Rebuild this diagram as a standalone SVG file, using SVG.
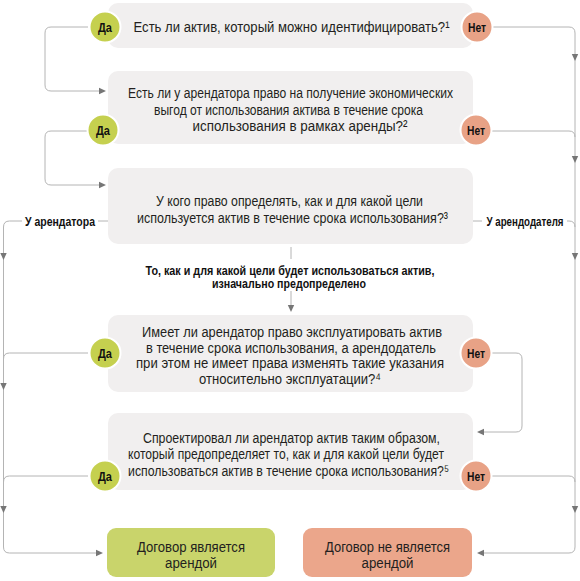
<svg xmlns="http://www.w3.org/2000/svg" xmlns:xlink="http://www.w3.org/1999/xlink" width="580" height="581" viewBox="0 0 580 581">
<style>
.box{fill:#f1efef}
.q{font-family:"Liberation Sans Narrow","Liberation Sans",Arial,sans-serif;font-size:15.5px;fill:#231f20;text-anchor:middle}
.lbl{font-family:"Liberation Sans Narrow","Liberation Sans",Arial,sans-serif;font-size:12.5px;font-weight:bold;fill:#111;text-anchor:middle}
.yes{fill:#c5d04f;stroke:#fff;stroke-width:2}
.no{fill:#e8a286;stroke:#fff;stroke-width:2}
.ln{fill:none;stroke:#b4b4b4;stroke-width:1}
.ah{fill:#767676}
</style>
<defs>
<path id="ad" d="M-3.2,-7 L3.2,-7 L0,0 Z"/>
<path id="ar" d="M-7,-3.2 L-7,3.2 L0,0 Z"/>
<path id="al" d="M7,-3.2 L7,3.2 L0,0 Z"/>
</defs>
<rect width="580" height="581" fill="#fff"/>

<g id="connectors">
<path class="ln" d="M88,27 H51 Q45,27 45,33 V85 Q45,91 51,91 H100"/>
<path class="ln" d="M88,131 H51 Q45,131 45,137 V179 Q45,185 51,185 H100"/>
<path class="ln" d="M491,27 H569 Q575,27 575,33 V547 Q575,553 569,553 H483"/>
<path class="ln" d="M491,131 H569 Q575,131 575,137"/>
<path class="ln" d="M473,221 H482"/>
<path class="ln" d="M567,221 H569 Q575,221 575,227"/>
<path class="ln" d="M108,221 H98"/>
<path class="ln" d="M22,221 H9.5 Q3.5,221 3.5,227 V547 Q3.5,553 9.5,553 H97"/>
<path class="ln" d="M88,353 H9.5 Q3.5,353 3.5,359"/>
<path class="ln" d="M88,476 H9.5 Q3.5,476 3.5,482"/>
<path class="ln" d="M491,353 H516 Q522,353 522,359 V426 Q522,432 516,432 H483"/>
<path class="ln" d="M491,476 H569 Q575,476 575,482"/>
<path class="ln" d="M291,247 V259"/>
<path class="ln" d="M291,291 V306"/>
<g class="ah">
<use xlink:href="#ar" x="106" y="91"/>
<use xlink:href="#ar" x="106" y="185"/>
<use xlink:href="#ad" x="575" y="61"/>
<use xlink:href="#ad" x="575" y="163"/>
<use xlink:href="#ad" x="575" y="260"/>
<use xlink:href="#ad" x="575" y="513"/>
<use xlink:href="#al" x="477" y="553"/>
<use xlink:href="#ad" x="3.5" y="260"/>
<use xlink:href="#ad" x="3.5" y="390"/>
<use xlink:href="#ad" x="3.5" y="513"/>
<use xlink:href="#ar" x="103" y="553"/>
<use xlink:href="#al" x="477" y="432"/>
<use xlink:href="#ad" x="291" y="312"/>
</g>
<text class="lbl" x="60" y="225.5" textLength="70" lengthAdjust="spacingAndGlyphs">У арендатора</text>
<text class="lbl" x="525" y="225.5" textLength="77" lengthAdjust="spacingAndGlyphs">У арендодателя</text>
<text class="lbl" x="290" y="275" textLength="289" lengthAdjust="spacingAndGlyphs">То, как и для какой цели будет использоваться актив,</text>
<text class="lbl" x="289" y="288" textLength="154" lengthAdjust="spacingAndGlyphs">изначально предопределено</text>
</g>

<g id="q1">
<rect class="box" x="108" y="3" width="365" height="45" rx="10"/>
<text class="q" x="291.5" y="31.5" textLength="316" lengthAdjust="spacingAndGlyphs">Есть ли актив, который можно идентифицировать?¹</text>
</g>
<g id="q2">
<rect class="box" x="108" y="71" width="365" height="73" rx="10"/>
<text class="q" x="290.5" y="98" textLength="325" lengthAdjust="spacingAndGlyphs">Есть ли у арендатора право на получение экономических</text>
<text class="q" x="288.5" y="114.5" textLength="269" lengthAdjust="spacingAndGlyphs">выгод от использования актива в течение срока</text>
<text class="q" x="300" y="131" textLength="215" lengthAdjust="spacingAndGlyphs">использования в рамках аренды?²</text>
</g>
<g id="q3">
<rect class="box" x="108" y="168" width="365" height="76" rx="10"/>
<text class="q" x="289.5" y="206" textLength="267" lengthAdjust="spacingAndGlyphs">У кого право определять, как и для какой цели</text>
<text class="q" x="292.5" y="222.5" textLength="311" lengthAdjust="spacingAndGlyphs">используется актив в течение срока использования?³</text>
</g>
<g id="q4">
<rect class="box" x="108" y="315" width="365" height="77" rx="10"/>
<text class="q" x="292" y="337" textLength="300" lengthAdjust="spacingAndGlyphs">Имеет ли арендатор право эксплуатировать актив</text>
<text class="q" x="291" y="352.5" textLength="290" lengthAdjust="spacingAndGlyphs">в течение срока использования, а арендодатель</text>
<text class="q" x="290" y="368" textLength="308" lengthAdjust="spacingAndGlyphs">при этом не имеет права изменять такие указания</text>
<text class="q" x="290" y="383.5" textLength="182" lengthAdjust="spacingAndGlyphs">относительно эксплуатации?⁴</text>
</g>
<g id="q5">
<rect class="box" x="108" y="413" width="365" height="77" rx="10"/>
<text class="q" x="291.5" y="442.5" textLength="297" lengthAdjust="spacingAndGlyphs">Спроектировал ли арендатор актив таким образом,</text>
<text class="q" x="286" y="459" textLength="316" lengthAdjust="spacingAndGlyphs">который предопределяет то, как и для какой цели будет</text>
<text class="q" x="288.5" y="475.5" textLength="321" lengthAdjust="spacingAndGlyphs">использоваться актив в течение срока использования?⁵</text>
</g>

<g id="yes1"><circle class="yes" cx="105" cy="27" r="15.5"/><text class="lbl" x="105" y="31.5" textLength="14" lengthAdjust="spacingAndGlyphs">Да</text></g>
<g id="no1"><circle class="no" cx="477" cy="27" r="15.5"/><text class="lbl" x="477" y="31.5" textLength="18" lengthAdjust="spacingAndGlyphs">Нет</text></g>
<g id="yes2"><circle class="yes" cx="103" cy="130" r="15.5"/><text class="lbl" x="103" y="134.5" textLength="14" lengthAdjust="spacingAndGlyphs">Да</text></g>
<g id="no2"><circle class="no" cx="476" cy="130" r="15.5"/><text class="lbl" x="476" y="134.5" textLength="18" lengthAdjust="spacingAndGlyphs">Нет</text></g>
<g id="yes4"><circle class="yes" cx="105" cy="353" r="15.5"/><text class="lbl" x="105" y="357.5" textLength="14" lengthAdjust="spacingAndGlyphs">Да</text></g>
<g id="no4"><circle class="no" cx="476" cy="353" r="15.5"/><text class="lbl" x="476" y="357.5" textLength="18" lengthAdjust="spacingAndGlyphs">Нет</text></g>
<g id="yes5"><circle class="yes" cx="105" cy="476" r="15.5"/><text class="lbl" x="105" y="480.5" textLength="14" lengthAdjust="spacingAndGlyphs">Да</text></g>
<g id="no5"><circle class="no" cx="476" cy="476" r="15.5"/><text class="lbl" x="476" y="480.5" textLength="18" lengthAdjust="spacingAndGlyphs">Нет</text></g>

<g id="lease">
<rect x="107" y="528" width="168" height="49" rx="9" fill="#c9d46b"/>
<text class="q" x="191" y="551.5" textLength="108" lengthAdjust="spacingAndGlyphs">Договор является</text>
<text class="q" x="191" y="568" textLength="52" lengthAdjust="spacingAndGlyphs">арендой</text>
</g>
<g id="notlease">
<rect x="303" y="528" width="169" height="49" rx="9" fill="#eba68b"/>
<text class="q" x="387.5" y="551.5" textLength="125" lengthAdjust="spacingAndGlyphs">Договор не является</text>
<text class="q" x="387.5" y="568" textLength="52" lengthAdjust="spacingAndGlyphs">арендой</text>
</g>
</svg>
